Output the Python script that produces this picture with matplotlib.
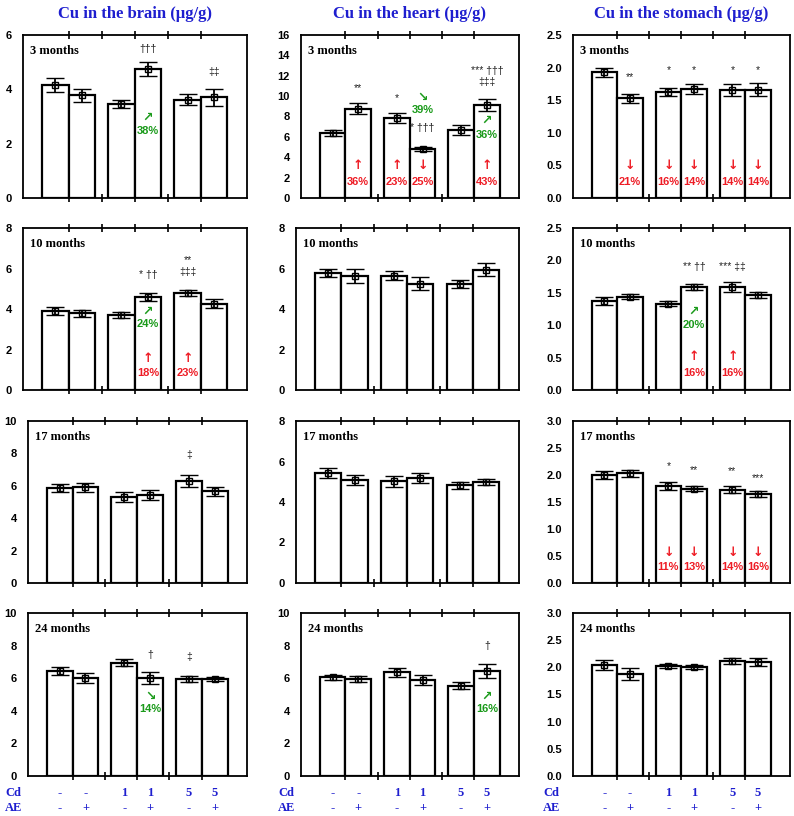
import matplotlib
matplotlib.use("Agg")
import matplotlib.pyplot as plt
import numpy as np

# ---------------- data ----------------
organs = ["brain", "heart", "stomach"]
ages = ["3 months", "10 months", "17 months", "24 months"]
cd_labels = ["-", "-", "1", "1", "5", "5"]
ae_labels = ["-", "+", "-", "+", "-", "+"]

brain_mean = [[4.15, 3.78, 3.45, 4.75, 3.62, 3.70],
              [3.88, 3.78, 3.72, 4.60, 4.78, 4.25],
              [5.85, 5.90, 5.30, 5.45, 6.28, 5.65],
              [6.45, 6.00, 6.95, 6.00, 5.95, 5.95]]
brain_err = [[0.25, 0.25, 0.15, 0.25, 0.20, 0.30],
             [0.20, 0.18, 0.15, 0.20, 0.15, 0.22],
             [0.25, 0.28, 0.30, 0.30, 0.38, 0.30],
             [0.25, 0.30, 0.22, 0.35, 0.18, 0.15]]
heart_mean = [[6.35, 8.75, 7.85, 4.80, 6.70, 9.15],
              [5.80, 5.65, 5.65, 5.25, 5.25, 5.95],
              [5.45, 5.08, 5.02, 5.20, 4.82, 4.97],
              [6.05, 5.95, 6.35, 5.90, 5.55, 6.45]]
heart_err = [[0.30, 0.55, 0.45, 0.20, 0.50, 0.60],
             [0.20, 0.35, 0.22, 0.33, 0.20, 0.33],
             [0.25, 0.25, 0.28, 0.25, 0.18, 0.15],
             [0.15, 0.20, 0.25, 0.30, 0.20, 0.42]]
stomach_mean = [[1.93, 1.53, 1.63, 1.67, 1.66, 1.66],
                [1.37, 1.44, 1.33, 1.59, 1.59, 1.47],
                [2.00, 2.03, 1.80, 1.75, 1.73, 1.65],
                [2.05, 1.87, 2.02, 2.01, 2.12, 2.10]]
stomach_err = [[0.07, 0.07, 0.06, 0.08, 0.09, 0.10],
               [0.06, 0.04, 0.04, 0.05, 0.08, 0.05],
               [0.07, 0.07, 0.07, 0.05, 0.07, 0.05],
               [0.09, 0.11, 0.04, 0.04, 0.06, 0.07]]

brain_ymax = [6, 8, 10, 10]
heart_ymax = [16, 8, 8, 10]
stomach_ymax = [2.5, 2.5, 3.0, 3.0]
brain_ystep = [2, 2, 2, 2]
heart_ystep = [2, 2, 2, 2]
stomach_ystep = [0.5, 0.5, 0.5, 0.5]

# annotations: (bar index, y value, text, colour key)
brain_notes = [
    [(3, 5.48, "†††", "k"), (5, 4.63, "‡‡", "k"), (3, 2.98, "↗", "g"), (3, 2.46, "38%", "g")],
    [(3, 5.68, "* ††", "k"), (4, 6.40, "**", "k"), (4, 5.83, "‡‡‡", "k"),
     (3, 3.90, "↗", "g"), (3, 3.26, "24%", "g"),
     (3, 1.58, "↑", "r"), (3, 0.84, "18%", "r"), (4, 1.58, "↑", "r"), (4, 0.84, "23%", "r")],
    [(4, 7.90, "‡", "k")],
    [(3, 7.40, "†", "k"), (4, 7.30, "‡", "k"), (3, 4.90, "↘", "g"), (3, 4.10, "14%", "g")],
]
heart_notes = [
    [(1, 10.8, "**", "k"), (2, 9.8, "*", "k"), (3, 9.9, "↘", "g"), (3, 8.6, "39%", "g"),
     (3, 6.85, "* †††", "k"), (5, 12.5, "*** †††", "k"), (5, 11.4, "‡‡‡", "k"),
     (5, 7.6, "↗", "g"), (5, 6.2, "36%", "g"),
     (1, 3.2, "↑", "r"), (1, 1.6, "36%", "r"), (2, 3.2, "↑", "r"), (2, 1.6, "23%", "r"),
     (3, 3.2, "↓", "r"), (3, 1.6, "25%", "r"), (5, 3.2, "↑", "r"), (5, 1.6, "43%", "r")],
    [],
    [],
    [(5, 7.97, "†", "k"), (5, 4.90, "↗", "g"), (5, 4.10, "16%", "g")],
]
stomach_notes = [
    [(1, 1.86, "**", "k"), (2, 1.96, "*", "k"), (3, 1.96, "*", "k"), (4, 1.96, "*", "k"), (5, 1.96, "*", "k"),
     (1, 0.50, "↓", "r"), (1, 0.25, "21%", "r"), (2, 0.50, "↓", "r"), (2, 0.25, "16%", "r"),
     (3, 0.50, "↓", "r"), (3, 0.25, "14%", "r"), (4, 0.50, "↓", "r"), (4, 0.25, "14%", "r"),
     (5, 0.50, "↓", "r"), (5, 0.25, "14%", "r")],
    [(3, 1.90, "** ††", "k"), (4, 1.90, "*** ‡‡", "k"), (3, 1.22, "↗", "g"), (3, 1.00, "20%", "g"),
     (3, 0.51, "↑", "r"), (3, 0.26, "16%", "r"), (4, 0.51, "↑", "r"), (4, 0.26, "16%", "r")],
    [(2, 2.16, "*", "k"), (3, 2.10, "**", "k"), (4, 2.07, "**", "k"), (5, 1.94, "***", "k"),
     (2, 0.56, "↓", "r"), (2, 0.30, "11%", "r"), (3, 0.56, "↓", "r"), (3, 0.30, "13%", "r"),
     (4, 0.56, "↓", "r"), (4, 0.30, "14%", "r"), (5, 0.56, "↓", "r"), (5, 0.30, "16%", "r")],
    [],
]

means = {"brain": brain_mean, "heart": heart_mean, "stomach": stomach_mean}
errs = {"brain": brain_err, "heart": heart_err, "stomach": stomach_err}
ymaxs = {"brain": brain_ymax, "heart": heart_ymax, "stomach": stomach_ymax}
ysteps = {"brain": brain_ystep, "heart": heart_ystep, "stomach": stomach_ystep}
notes = {"brain": brain_notes, "heart": heart_notes, "stomach": stomach_notes}

# ---------------- layout ----------------
W, H = 794, 816
fig = plt.figure(figsize=(W / 100, H / 100), dpi=100)

col_left = {"brain": [23, 23, 28, 28], "heart": [301, 296, 296, 301], "stomach": [573, 573, 573, 573]}
col_right = {"brain": 247, "heart": 519, "stomach": 790}
row_top = [35, 228, 421, 613]
row_bot = [198, 390, 583, 776]

bar_x = np.array([0.6, 1.4, 2.6, 3.4, 4.6, 5.4])
BLUE = "#1e1ecf"
colors = {"k": "#222222", "g": "#1a9a1a", "r": "#ee1c25"}
sans = ["Liberation Sans", "DejaVu Sans"]
serif = ["Liberation Serif", "DejaVu Serif"]
arrows = {"↑", "↓", "↗", "↘"}

for ci, org in enumerate(organs):
    for ri in range(4):
        l = col_left[org][ri]
        r = col_right[org]
        t = row_top[ri]
        b = row_bot[ri]
        ax = fig.add_axes([l / W, 1 - b / H, (r - l) / W, (b - t) / H])
        m = np.array(means[org][ri])
        e = np.array(errs[org][ri])
        ax.bar(bar_x, m, width=0.8, color="white", edgecolor="black", linewidth=1.6, zorder=2)
        ax.errorbar(bar_x, m, yerr=e, fmt="s", mfc="none", mec="black", ms=4.5, mew=1.0,
                    ecolor="black", elinewidth=1.3, capsize=6.5, capthick=1.3, zorder=3)
        ax.set_xlim(-0.38, 6.4)
        ymax = ymaxs[org][ri]
        ax.set_ylim(0, ymax)
        step = ysteps[org][ri]
        yt = np.arange(0, ymax + step / 2, step)
        ax.set_yticks(yt)
        if org == "stomach":
            ax.set_yticklabels([f"{v:.1f}" for v in yt])
        else:
            ax.set_yticklabels([f"{v:g}" for v in yt])
        for lab in ax.get_yticklabels():
            lab.set_fontfamily(sans)
            lab.set_fontweight("bold")
            lab.set_fontsize(8)
        ax.tick_params(axis="y", length=0, pad=8)
        ax.set_xticks([1, 2, 3, 4, 5])
        ax.set_xticklabels([])
        ax.tick_params(axis="x", direction="inout", length=6, width=1.2, top=True, bottom=True)
        for s in ax.spines.values():
            s.set_linewidth(1.3)
        ax.text(0.03, 0.9, ages[ri], transform=ax.transAxes, fontsize=9, fontweight="bold",
                family=serif, ha="left", va="center")
        for (bi, yv, txt, ck) in notes[org][ri]:
            if txt in arrows:
                ax.text(bar_x[bi], yv, txt, color=colors[ck], fontsize=9, fontweight="bold",
                        family=["DejaVu Sans"], ha="center", va="center", zorder=4)
            else:
                bold = ck != "k"
                ax.text(bar_x[bi], yv, txt, color=colors[ck], fontsize=8 if bold else 7.5,
                        fontweight="bold" if bold else "normal", family=sans,
                        ha="center", va="center", zorder=4)
        if ri == 0:
            ax.set_title(f"Cu in the {org} (µg/g)", color=BLUE, fontsize=12,
                         fontweight="bold", family=serif, pad=12)
        if ri == 3:
            xt = ax.get_xaxis_transform()
            for xi, c_lab, a_lab in zip(bar_x, cd_labels, ae_labels):
                ax.text(xi, -0.105, c_lab, transform=xt, color=BLUE, fontsize=9,
                        fontweight="bold", family=serif, ha="center", va="center")
                ax.text(xi, -0.195, a_lab, transform=xt, color=BLUE, fontsize=9,
                        fontweight="bold", family=serif, ha="center", va="center")
            lx = {"brain": 5, "heart": 278, "stomach": 543}[org]
            fig.text(lx / W, 1 - 793 / H, "Cd", color=BLUE, fontsize=9, fontweight="bold",
                     family=serif, ha="left", va="center")
            fig.text(lx / W, 1 - 808 / H, "AE", color=BLUE, fontsize=9, fontweight="bold",
                     family=serif, ha="left", va="center")

fig.savefig("out.png", dpi=100)
